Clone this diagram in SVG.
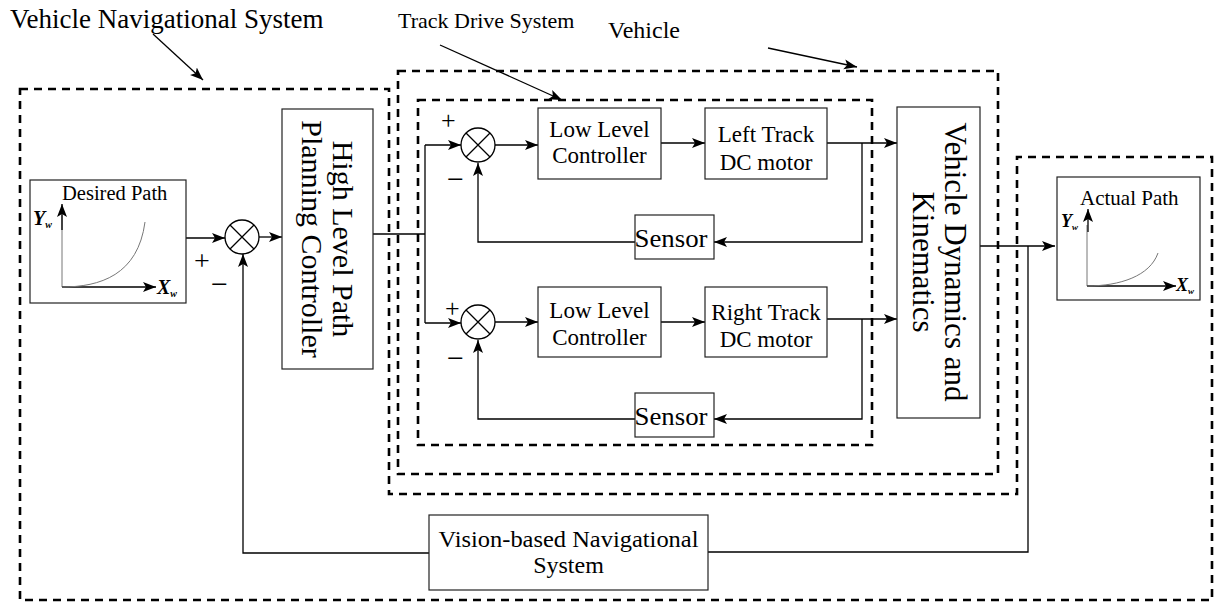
<svg xmlns="http://www.w3.org/2000/svg" width="1215" height="606" viewBox="0 0 1215 606">
<style>
.t{font-family:"Liberation Serif","Times New Roman",serif;fill:#000}
.box{fill:#fff;stroke:#222;stroke-width:1.2}
.dash{fill:none;stroke:#000;stroke-width:2.6;stroke-dasharray:8 6}
.c{fill:none;stroke:#000;stroke-width:1.3}
.ax{fill:none;stroke:#777;stroke-width:1}
.j{fill:#fff;stroke:#000;stroke-width:1.3}
</style>
<defs>
<marker id="ah" markerUnits="userSpaceOnUse" markerWidth="14" markerHeight="12" refX="13" refY="5" orient="auto">
<path d="M0,0 L13,5 L0,10 L3,5 z" fill="#000"/>
</marker>
</defs>
<g id="boundaries">
<path class="dash" d="M20,89 H389 V494 H1017 V157 H1212 V600 H20 Z"/>
<rect class="dash" x="398" y="71" width="600" height="403"/>
<rect class="dash" x="418" y="100" width="454" height="345"/>
</g>
<g id="labels">
<text class="t" x="10" y="28" font-size="27">Vehicle Navigational System</text>
<text class="t" x="398" y="28" font-size="22">Track Drive System</text>
<text class="t" x="608" y="38" font-size="24">Vehicle</text>
</g>
<g id="connectors">
<line class="c" x1="153" y1="34" x2="203" y2="80" marker-end="url(#ah)"/>
<line class="c" x1="440" y1="45" x2="562" y2="100" marker-end="url(#ah)"/>
<line class="c" x1="768" y1="48" x2="857" y2="67" marker-end="url(#ah)"/>
<line class="c" x1="186" y1="238" x2="225" y2="238" marker-end="url(#ah)"/>
<line class="c" x1="259" y1="237" x2="282" y2="237" marker-end="url(#ah)"/>
<polyline class="c" points="708,552 1028,552 1028,246"/>
<polyline class="c" points="429,553 243,553 243,254" marker-end="url(#ah)"/>
<line class="c" x1="373" y1="234" x2="425" y2="234"/>
<line class="c" x1="425" y1="145" x2="425" y2="323"/>
<line class="c" x1="425" y1="145" x2="461" y2="145" marker-end="url(#ah)"/>
<line class="c" x1="425" y1="323" x2="461" y2="323" marker-end="url(#ah)"/>
<line class="c" x1="495" y1="145" x2="538" y2="145" marker-end="url(#ah)"/>
<line class="c" x1="661" y1="143" x2="705" y2="143" marker-end="url(#ah)"/>
<line class="c" x1="827" y1="143" x2="897" y2="143" marker-end="url(#ah)"/>
<polyline class="c" points="862,143 862,242 714,242" marker-end="url(#ah)"/>
<polyline class="c" points="635,242 478,242 478,163" marker-end="url(#ah)"/>
<line class="c" x1="495" y1="322" x2="538" y2="322" marker-end="url(#ah)"/>
<line class="c" x1="661" y1="322" x2="705" y2="322" marker-end="url(#ah)"/>
<line class="c" x1="827" y1="319" x2="897" y2="319" marker-end="url(#ah)"/>
<polyline class="c" points="862,319 862,419 714,419" marker-end="url(#ah)"/>
<polyline class="c" points="635,419 478,419 478,340" marker-end="url(#ah)"/>
<line class="c" x1="980" y1="246" x2="1055" y2="246" marker-end="url(#ah)"/>
</g>
<g id="desired-path">
<rect class="box" x="30" y="180" width="156" height="123"/>
<text class="t" x="62" y="200" font-size="20.5">Desired Path</text>
<line class="ax" x1="62" y1="287" x2="62" y2="215"/>
<line class="c" x1="62" y1="230" x2="62" y2="204" marker-end="url(#ah)"/>
<line class="c" x1="62" y1="287" x2="156" y2="287" marker-end="url(#ah)"/>
<path class="ax" d="M62,287 C100,287 138,275 145,222"/>
<text class="t" x="33" y="225" font-size="20" font-style="italic" font-weight="bold">Y<tspan font-size="10" dy="3">w</tspan></text>
<text class="t" x="157" y="294" font-size="20" font-style="italic" font-weight="bold">X<tspan font-size="10" dy="3">w</tspan></text>
</g>
<g id="sum1">
<circle class="j" cx="242" cy="237" r="17"/>
<path class="c" d="M230,225 L254,249 M254,225 L230,249" stroke-width="1"/>
<text class="t" x="194" y="270" font-size="28">+</text>
<text class="t" x="211" y="294" font-size="30">−</text>
</g>
<g id="hlppc">
<rect class="box" x="282" y="109" width="91" height="260"/>
<g transform="translate(327,239) rotate(90)">
<text class="t" x="0" y="-6" font-size="30" text-anchor="middle">High Level Path</text>
<text class="t" x="0" y="25" font-size="30" text-anchor="middle">Planning Controller</text>
</g>
</g>
<g id="sum2">
<circle class="j" cx="478" cy="145" r="17"/>
<path class="c" d="M466,133 L490,157 M490,133 L466,157" stroke-width="1"/>
<text class="t" x="441" y="129" font-size="26">+</text>
<text class="t" x="447" y="189" font-size="30">−</text>
</g>
<g id="llc1">
<rect class="box" x="538" y="108" width="123" height="71"/>
<text class="t" x="599.5" y="137" font-size="23" text-anchor="middle">Low Level</text>
<text class="t" x="599.5" y="163" font-size="23" text-anchor="middle">Controller</text>
</g>
<g id="left-motor">
<rect class="box" x="705" y="108" width="122" height="71"/>
<text class="t" x="766" y="142" font-size="23" text-anchor="middle">Left Track</text>
<text class="t" x="766" y="170" font-size="23" text-anchor="middle">DC motor</text>
</g>
<g id="sensor1">
<rect class="box" x="635" y="215" width="79" height="44"/>
<text class="t" x="671" y="247" font-size="26" text-anchor="middle" textLength="73" lengthAdjust="spacingAndGlyphs">Sensor</text>
</g>
<g id="sum3">
<circle class="j" cx="478" cy="322" r="17"/>
<path class="c" d="M466,310 L490,334 M490,310 L466,334" stroke-width="1"/>
<text class="t" x="445" y="317" font-size="26">+</text>
<text class="t" x="447" y="368" font-size="30">−</text>
</g>
<g id="llc2">
<rect class="box" x="538" y="287" width="123" height="70"/>
<text class="t" x="599.5" y="318" font-size="23" text-anchor="middle">Low Level</text>
<text class="t" x="599.5" y="345" font-size="23" text-anchor="middle">Controller</text>
</g>
<g id="right-motor">
<rect class="box" x="705" y="287" width="122" height="70"/>
<text class="t" x="766" y="320" font-size="23" text-anchor="middle">Right Track</text>
<text class="t" x="766" y="347" font-size="23" text-anchor="middle">DC motor</text>
</g>
<g id="sensor2">
<rect class="box" x="635" y="393" width="79" height="44"/>
<text class="t" x="671" y="425" font-size="26" text-anchor="middle" textLength="73" lengthAdjust="spacingAndGlyphs">Sensor</text>
</g>
<g id="vdk">
<rect class="box" x="897" y="107" width="83" height="311"/>
<g transform="translate(929,262) rotate(90)">
<text class="t" x="0" y="-16" font-size="31" text-anchor="middle">Vehicle Dynamics and</text>
<text class="t" x="0" y="16" font-size="31" text-anchor="middle">Kinematics</text>
</g>
</g>
<g id="actual-path">
<rect class="box" x="1057" y="177" width="143" height="123"/>
<text class="t" x="1080" y="205" font-size="21">Actual Path</text>
<line class="ax" x1="1087" y1="286" x2="1087" y2="225"/>
<line class="c" x1="1088" y1="232" x2="1088" y2="209" marker-end="url(#ah)"/>
<line class="c" x1="1087" y1="286" x2="1176" y2="286" marker-end="url(#ah)"/>
<path class="ax" d="M1087,286 C1120,286 1150,276 1158,253"/>
<text class="t" x="1061" y="227" font-size="18" font-style="italic" font-weight="bold">Y<tspan font-size="9" dy="3">w</tspan></text>
<text class="t" x="1176" y="291" font-size="18" font-style="italic" font-weight="bold">X<tspan font-size="9" dy="3">w</tspan></text>
</g>
<g id="vision">
<rect class="box" x="429" y="515" width="279" height="75"/>
<text class="t" x="568.5" y="547" font-size="24" text-anchor="middle" textLength="260" lengthAdjust="spacingAndGlyphs">Vision-based Navigational</text>
<text class="t" x="568.5" y="573" font-size="24" text-anchor="middle">System</text>
</g>
</svg>
